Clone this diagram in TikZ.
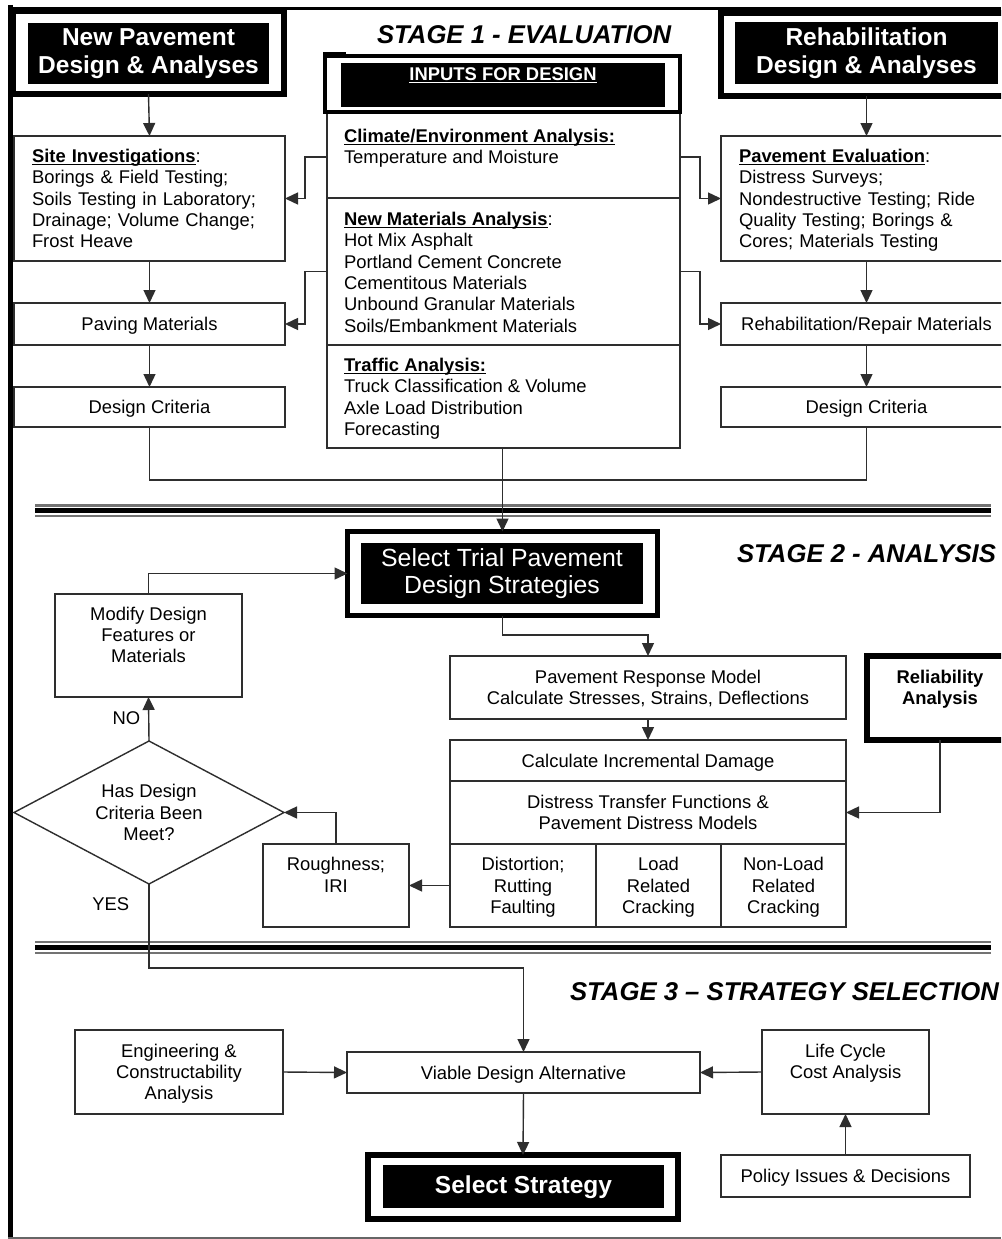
\documentclass[tikz,border=0pt]{standalone}
\usepackage{fontspec}
\setmainfont{Liberation Sans}
\usetikzlibrary{arrows.meta,shapes.geometric}
\definecolor{lc}{gray}{0.18}
\newcommand\bfs{\fontsize{18.4}{21.3}\selectfont}
\newcommand\hfs{\fontsize{24.5}{28}\selectfont}
\newcommand\tfs{\fontsize{24.8}{27.5}\selectfont}
\newcommand\sfs{\fontsize{25.7}{30}\selectfont\bfseries\itshape}
\newcommand\st{\rule[-4pt]{0pt}{21.2pt}}
\newcommand\hst{\rule[-5pt]{0pt}{27.5pt}}
\newcommand\myul[1]{\setbox0\hbox{#1}\rlap{\rule[-2.8pt]{\wd0}{1.3pt}}\box0}
\newcommand\boxat[7]{\node[#2,minimum width={#5-#3},minimum height={#6-#4}] (#1) at ({(#3+#5)/2},{(#4+#6)/2}) {#7};}
\begin{document}
\begin{tikzpicture}[x=1pt,y=-1pt,
  box/.style={draw=lc,line width=1.4pt,inner sep=0pt,outer sep=0pt,font=\bfs,align=center,fill=white},
  thickbox/.style={draw=black,line width=6pt,fill=white,inner sep=0pt,outer sep=0pt},
  blk/.style={fill=black,inner sep=0pt,outer sep=0pt},
  hdr/.style={text=white,inner sep=0pt,outer sep=0pt,font=\hfs\bfseries,align=center},
  txt/.style={inner sep=0pt,outer sep=0pt,font=\bfs,align=left,anchor=north west},
  arr/.style={draw=lc,line width=1.4pt,-{Triangle[length=13pt,width=12pt]}},
  ln/.style={draw=lc,line width=1.4pt},
  stage/.style={inner sep=0pt,outer sep=0pt,font=\sfs,anchor=west},
  lab/.style={inner sep=0pt,outer sep=0pt,font=\bfs}]
\useasboundingbox (0,0) rectangle (1001,1239);
\clip (0,0) rectangle (1001,1239);
\fill[white] (0,0) rectangle (1001,1239);
% frame
\draw[line width=5pt] (10.3,5) -- (10.3,1239);
\draw[line width=2.7pt] (8,8.3) -- (1001,8.3);
\draw[line width=2pt,black!60] (8,1237.5) -- (1001,1237.5);
% separators
\draw[line width=2.3pt,black!55] (35,505.5) -- (991,505.5);
\draw[line width=4.4pt] (35,510.5) -- (991,510.5);
\draw[line width=2.3pt,black!55] (35,516.2) -- (991,516.2);
\draw[line width=2pt,black!55] (35,941.7) -- (991,941.7);
\draw[line width=5pt] (35,947.5) -- (991,947.5);
\draw[line width=2.6pt,black!55] (35,953) -- (991,953);
% stage labels
\node[stage] (s1) at (377,35) {STAGE 1 - EVALUATION};
\node[stage] (s2) at (737,554) {STAGE 2 - ANALYSIS};
\node[stage] (s3) at (570,991.5) {STAGE 3 – STRATEGY SELECTION};
% header boxes
\boxat{newpav}{thickbox}{13}{11}{284}{94}{}
\boxat{newpavB}{blk}{28}{23}{269}{84}{}
\node[hdr] (newpavL) at (148.5,50.5) {\hst New Pavement\\\hst Design \& Analyses};
\boxat{rehab}{thickbox}{721}{13}{1012}{96}{}
\boxat{rehabB}{blk}{735}{22}{998}{84}{}
\node[hdr] (rehabL) at (866.5,50.5) {\hst Rehabilitation\\\hst Design \& Analyses};
% input panel
\boxat{climate}{box}{327}{112}{680}{198}{}
\boxat{materials}{box}{327}{198}{680}{345}{}
\boxat{traffic}{box}{327}{345}{680}{448}{}
\boxat{inputs}{thickbox,line width=4pt}{325}{56}{680}{112}{}
\boxat{inputsB}{blk}{341}{63}{665}{107}{}
\node[hdr,font=\bfs\bfseries] (inputsL) at (503,74) {\st\myul{INPUTS FOR DESIGN}};
\draw[line width=2.5pt] (324,58) -- (324,53) -- (346,53);
\node[txt] (climateT) at (344,125.4) {\st\myul{\textbf{Climate/Environment Analysis:}}\\\st Temperature and Moisture};
\node[txt] (materialsT) at (344,208.4) {\st\myul{\textbf{New Materials Analysis}}:\\\st Hot Mix Asphalt\\\st Portland Cement Concrete\\\st Cementitous Materials\\\st Unbound Granular Materials\\\st Soils/Embankment Materials};
\node[txt] (trafficT) at (344,354.4) {\st\myul{\textbf{Traffic Analysis:}}\\\st Truck Classification \& Volume\\\st Axle Load Distribution\\\st Forecasting};
% left column
\boxat{site}{box,align=left,text width=235pt,inner xsep=18pt}{14}{136}{285}{261}{\st\myul{\textbf{Site Investigations}}:\\\st Borings \& Field Testing;\\\st Soils Testing in Laboratory;\\\st Drainage; Volume Change;\\\st Frost Heave}
\boxat{paving}{box}{14}{303}{285}{345}{\st Paving Materials}
\boxat{dcL}{box}{14}{387}{285}{427}{\st Design Criteria}
% right column
\boxat{peval}{box,align=left,text width=255pt,inner xsep=18pt}{721}{136}{1012}{261}{\st\myul{\textbf{Pavement Evaluation}}:\\\st Distress Surveys;\\\st Nondestructive Testing; Ride\\\st Quality Testing; Borings \&\\\st Cores; Materials Testing}
\boxat{repair}{box}{721}{303}{1012}{345}{\st Rehabilitation/Repair Materials}
\boxat{dcR}{box}{721}{387}{1012}{427}{\st Design Criteria}
% stage 2
\boxat{trial}{thickbox,line width=5pt}{347.5}{531.5}{657.5}{615.5}{}
\boxat{trialB}{blk}{361}{543}{643}{604}{}
\node[hdr,font=\tfs] (trialL) at (502,572) {\rule{0pt}{21.3pt}Select Trial Pavement\\Design Strategies\rule[-5.1pt]{0pt}{5.1pt}};
\boxat{modify}{box}{55}{594}{242}{697}{\st Modify Design\\\st Features or\\\st Materials\\\st}
\node[box,diamond,aspect=1.888,minimum width=270pt,minimum height=143pt] (dia) at (149,812.5) {\st Has Design\\\st Criteria Been\\\st Meet?};
\boxat{resp}{box}{450}{656}{846}{719}{\st Pavement Response Model\\\st Calculate Stresses, Strains, Deflections}
\boxat{incr}{box}{450}{740}{846}{781}{\st Calculate Incremental Damage}
\boxat{distress}{box}{450}{781}{846}{844}{\st Distress Transfer Functions \&\\\st Pavement Distress Models}
\boxat{distort}{box}{450}{844}{596}{927}{\st Distortion;\\\st Rutting\\\st Faulting}
\boxat{loadc}{box}{596}{844}{721}{927}{\st Load\\\st Related\\\st Cracking}
\boxat{nonload}{box}{721}{844}{846}{927}{\st Non-Load\\\st Related\\\st Cracking}
\boxat{rough}{box}{263}{844}{409}{927}{\st Roughness;\\\st IRI\\\st}
\boxat{rel}{thickbox,font=\bfs\bfseries,align=center}{867}{656}{1013}{740}{\st Reliability\\\st Analysis\\\st}
% stage 3
\boxat{eng}{box}{75}{1030}{283}{1114}{\st Engineering \&\\\st Constructability\\\st Analysis}
\boxat{viable}{box}{347}{1052}{700}{1093}{\st Viable Design Alternative}
\boxat{life}{box}{762}{1030}{929}{1114}{\st Life Cycle\\\st Cost Analysis\\\st}
\boxat{policy}{box}{721}{1155}{970}{1197}{\st Policy Issues \& Decisions}
\boxat{strat}{thickbox}{368}{1155}{678}{1219}{}
\boxat{stratB}{blk}{383}{1165}{664}{1208}{}
\node[hdr] (stratL) at (523.5,1185) {\hst Select Strategy};
% labels
\node[lab] (nolab) at (126.5,718) {NO};
\node[lab] (yeslab) at (110.7,904) {YES};
% helper coordinates
\coordinate (merge) at (502,480);
\coordinate (tr1) at (0,635);
\coordinate (yb) at (0,968);
\coordinate (lx) at (305,0);
\coordinate (rx) at (700,0);
\coordinate (cw) at ([yshift=-2pt]climate.west);
\coordinate (ce) at ([yshift=-2pt]climate.east);
% connectors
\draw[arr] (newpav.south) -- (site.north);
\draw[arr] (site.south) -- (paving.north);
\draw[arr] (paving.south) -- (dcL.north);
\draw[arr] (rehab.south) -- (peval.north);
\draw[arr] (peval.south) -- (repair.north);
\draw[arr] (repair.south) -- (dcR.north);
\draw[arr] (cw) -- (cw -| lx) |- (site.east);
\draw[arr] (materials.west) -- (materials.west -| lx) |- (paving.east);
\draw[arr] (ce) -- (ce -| rx) |- (peval.west);
\draw[arr] (materials.east) -- (materials.east -| rx) |- (repair.west);
\draw[ln] (dcL.south) |- (merge) -| (dcR.south);
\draw[arr] (trial.north |- traffic.south) -- (trial.north);
\draw[arr] (trial.south) -- (trial.south |- tr1) -| (resp.north);
\draw[arr] (resp.south) -- (incr.north);
\draw[arr] (rel.south) |- (distress.east);
\draw[arr] (distort.west) -- (rough.east);
\draw[arr] (rough.north) |- (dia.east);
\draw[arr] (dia.north) -- (modify.south);
\draw[arr] (modify.north) |- (trial.west);
\draw[arr] (dia.south) -- (dia.south |- yb) -| (viable.north);
\draw[arr] (eng.east) -- (viable.west);
\draw[arr] (life.west) -- (viable.east);
\draw[arr] (policy.north) -- (life.south);
\draw[arr] (viable.south) -- (strat.north);
\end{tikzpicture}
\end{document}
